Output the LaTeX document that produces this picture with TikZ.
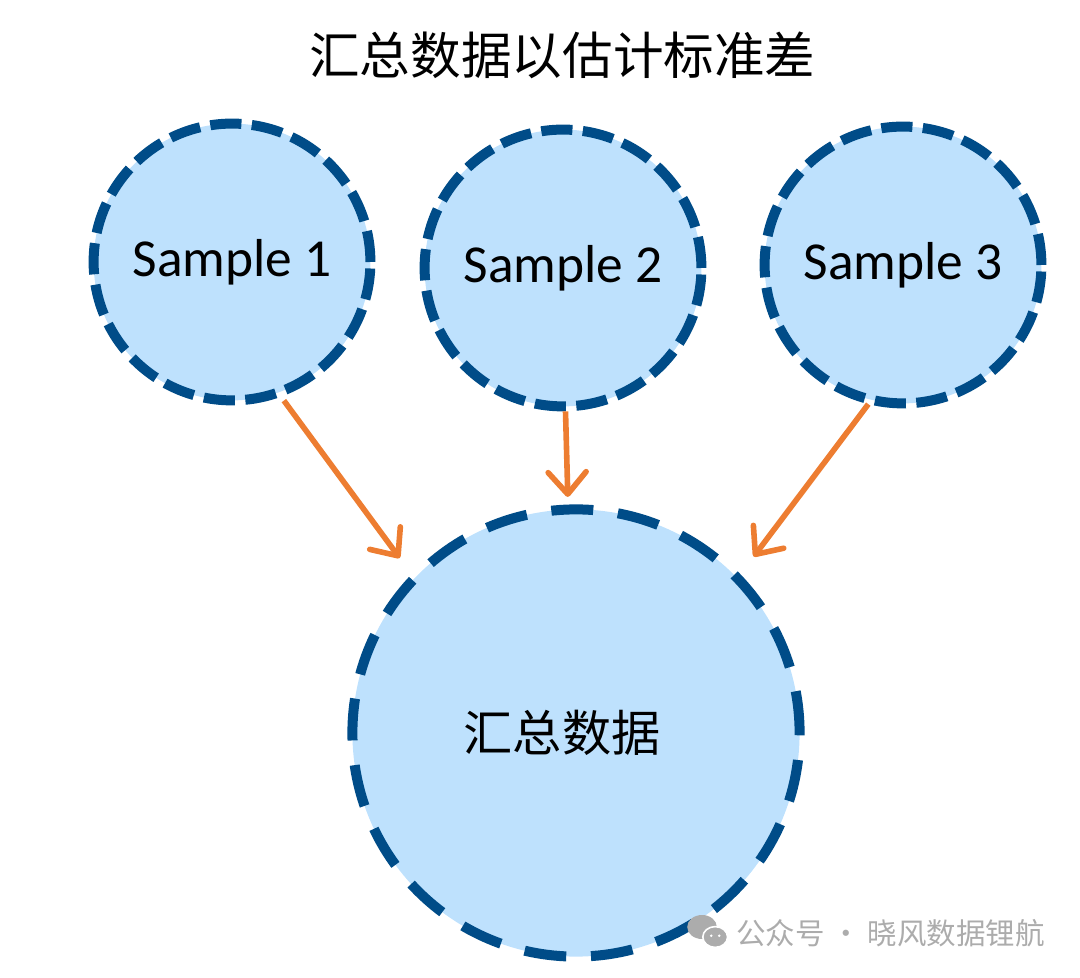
\documentclass[tikz,border=0pt]{standalone}
\usepackage{fontspec}
\setmainfont{Carlito}
\newfontfamily\cjk{Noto Sans CJK SC}
\usetikzlibrary{arrows.meta}
\definecolor{ringblue}{RGB}{0,76,136}
\definecolor{discblue}{RGB}{190,225,253}
\definecolor{flowor}{RGB}{237,125,49}
\definecolor{markgray}{RGB}{172,172,172}

\begin{document}
\begin{tikzpicture}[
  sample/.style={circle, draw=ringblue, fill=discblue, line width=0.25cm,
    dash pattern=on 0.78cm off 0.26cm, inner sep=0pt, minimum size=6.92cm,
    font=\fontsize{38}{40}\selectfont},
  pool/.style={sample, dash pattern=on 1.05cm off 0.62cm, minimum size=11.18cm,
    font=\cjk\fontsize{35}{38}\selectfont},
  flow/.style={draw=flowor, line width=0.14cm,
    -{Straight Barb[length=0.55cm, width=0.95cm, round]}}
]

\useasboundingbox (0,0) rectangle (27,24.425);

% title
\node (title) at (14.06,23.05) {\cjk\fontsize{36}{40}\selectfont 汇总数据以估计标准差};

% sample circles
\node[sample] (s1) at (5.8,17.875) {Sample 1};
\node[sample] (s2) at (14.075,17.725) {Sample 2};
\node[sample] (s3) at (22.575,17.8) {Sample 3};

% pooled circle
\node[pool] (pooled) at (14.4,6.1) {\hspace*{-0.7cm}汇总数据};

% arrows
\draw[flow, shorten <=0.12cm, shorten >=0.5cm] (s1.-70) -- (pooled.136);
\draw[flow, shorten >=0.19cm] (s2.-89) -- (pooled.92);
\draw[flow, shorten >=0.55cm] (s3.256.6) -- (pooled.44.4);

% watermark
{
\fill[markgray] (17.55,1.25) ellipse (0.37cm and 0.3cm);
\filldraw[markgray, draw=white, line width=0.04cm] (17.88,1.0) ellipse (0.31cm and 0.26cm);
\fill[white] (17.78,1.03) circle (0.035cm) (17.98,1.03) circle (0.035cm);
}
\node[anchor=west, text=markgray, inner sep=0pt] (mark) at (18.4,1.1)
  {\cjk\fontsize{21}{23}\selectfont 公众号 · 晓风数据锂航};

\end{tikzpicture}
\end{document}
